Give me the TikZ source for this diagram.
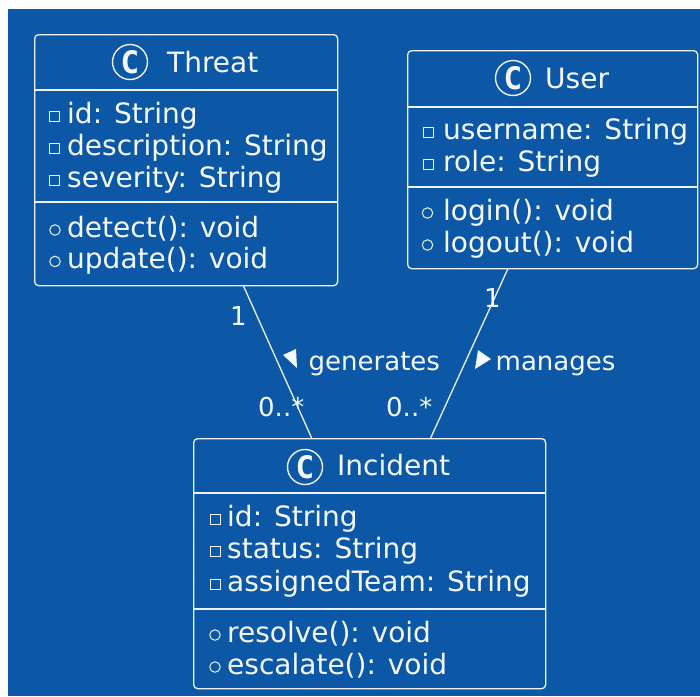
\documentclass[tikz,border=0pt]{standalone}
\usepackage{fontspec}
\setmainfont{DejaVu Sans}
\newfontfamily\spotfont{DejaVu Sans Mono}
\definecolor{bg}{RGB}{13,88,166}
\colorlet{edge}{white!92!bg}
\colorlet{ink}{white!96!bg}
\begin{document}
\begin{tikzpicture}[x=1pt,y=-1pt,
  line/.style={draw=edge, line width=1.3pt},
  classbox/.style={draw=edge, line width=1.3pt, rounded corners=4pt,
    inner sep=0pt, anchor=north west},
  spot/.style={circle, draw=edge, line width=1.4pt, minimum size=35pt,
    inner sep=0pt, text=ink, font=\spotfont\bfseries\fontsize{31}{31}\selectfont},
  title/.style={anchor=base west, inner sep=0pt, text=ink,
    font=\fontsize{28}{32}\selectfont},
  member/.style={anchor=base west, inner sep=0pt, text=ink,
    font=\fontsize{28}{32}\selectfont},
  priv/.style={rectangle, draw=edge, line width=1pt, minimum size=10pt, inner sep=0pt},
  pub/.style={circle, draw=edge, line width=1pt, minimum size=10.5pt, inner sep=0pt},
  lbl/.style={anchor=base west, inner sep=0pt, text=ink,
    font=\fontsize{26}{30}\selectfont},
  conn/.style={draw=edge, line width=1.3pt}]
\useasboundingbox (0,0) rectangle (700,696);
% page and canvas
\fill[white] (0,0) rectangle (700,696);
\fill[bg] (8,9) rectangle (700,696);

% ---------- class Threat ----------
\node[classbox, minimum width=303pt, minimum height=251pt] (threat) at (34,34) {};
\draw[line] (threat.west |- 0,90) -- (threat.east |- 0,90);
\draw[line] (threat.west |- 0,202) -- (threat.east |- 0,202);
\node[spot] (threatC) at (130,62) {C};
\node[title] (threatT) at (167,72) {Threat};
\foreach \txt [count=\i, evaluate=\i as \yb using 123+32*(\i-1)] in
  {id: String, description: String, severity: String} {
  \node[priv] (threat-ai\i) at (54,\yb-7) {};
  \node[member] (threat-a\i) at (67,\yb) {\txt};
}
\foreach \txt [count=\i, evaluate=\i as \yb using 237+31.5*(\i-1)] in
  {detect(): void, update(): void} {
  \node[pub] (threat-mi\i) at (55,\yb-7) {};
  \node[member] (threat-m\i) at (67,\yb) {\txt};
}

% ---------- class User ----------
\node[classbox, minimum width=290pt, minimum height=218pt] (user) at (407,50) {};
\draw[line] (user.west |- 0,107) -- (user.east |- 0,107);
\draw[line] (user.west |- 0,187) -- (user.east |- 0,187);
\node[spot] (userC) at (513,78) {C};
\node[title] (userT) at (545,88) {User};
\foreach \txt [count=\i, evaluate=\i as \yb using 139+32*(\i-1)] in
  {username: String, role: String} {
  \node[priv] (user-ai\i) at (428,\yb-7) {};
  \node[member] (user-a\i) at (443,\yb) {\txt};
}
\foreach \txt [count=\i, evaluate=\i as \yb using 220+32*(\i-1)] in
  {login(): void, logout(): void} {
  \node[pub] (user-mi\i) at (427.5,\yb-7) {};
  \node[member] (user-m\i) at (443,\yb) {\txt};
}

% ---------- class Incident ----------
\node[classbox, minimum width=352pt, minimum height=250pt] (incident) at (193,438) {};
\draw[line] (incident.west |- 0,493) -- (incident.east |- 0,493);
\draw[line] (incident.west |- 0,609) -- (incident.east |- 0,609);
\node[spot] (incidentC) at (305,467) {C};
\node[title] (incidentT) at (337,475) {Incident};
\foreach \txt [count=\i, evaluate=\i as \yb using 526+32.5*(\i-1)] in
  {id: String, status: String, assignedTeam: String} {
  \node[priv] (incident-ai\i) at (215,\yb-7) {};
  \node[member] (incident-a\i) at (227,\yb) {\txt};
}
\foreach \txt [count=\i, evaluate=\i as \yb using 642+32*(\i-1)] in
  {resolve(): void, escalate(): void} {
  \node[pub] (incident-mi\i) at (215,\yb-7) {};
  \node[member] (incident-m\i) at (227,\yb) {\txt};
}

% ---------- associations ----------
\draw[conn] ([xshift=57.5pt]threat.south) -- ([xshift=-58pt]incident.north);
\draw[conn] ([xshift=-45pt]user.south) -- ([xshift=61pt]incident.north);

\node[lbl] (gen1) at (230,325) {1};
\node[lbl] (genN) at (258,416) {0..*};
\node[lbl] (genL) at (308.5,370) {generates};
\fill[ink] (283,355) -- (296,349) -- (297,368) -- cycle;

\node[lbl] (man1) at (484,307) {1};
\node[lbl] (manN) at (386,416) {0..*};
\node[lbl] (manL) at (495.5,370) {manages};
\fill[ink] (478,350) -- (475,369) -- (491,359) -- cycle;
\end{tikzpicture}
\end{document}
